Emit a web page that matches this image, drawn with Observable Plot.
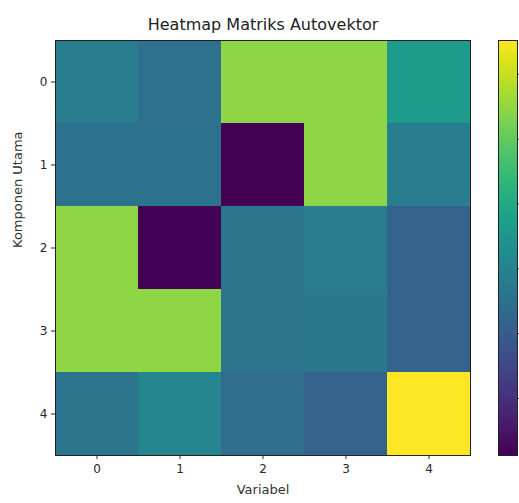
<!DOCTYPE html>
<html>
<head>
<meta charset="utf-8">
<script src="https://cdn.jsdelivr.net/npm/d3@7"></script>
<script src="https://cdn.jsdelivr.net/npm/@observablehq/plot@0.6"></script>
<style>
  html, body { margin: 0; padding: 0; background: #fff; overflow: hidden; }
  #wrap { position: relative; width: 519px; height: 503px; overflow: hidden; }
  #wrap > * { position: absolute; top: 0; }
</style>
</head>
<body>
<div id="wrap"></div>
<script>
// Data
const title = "Heatmap Matriks Autovektor";
const xLabel = "Variabel";
const yLabel = "Komponen Utama";
const variabel = [0, 1, 2, 3, 4];
const komponen = [0, 1, 2, 3, 4];
const komponen0 = [-0.05, -0.13, 0.61, 0.61, 0.15];
const komponen1 = [-0.12, -0.12, -0.72, 0.61, -0.05];
const komponen2 = [0.61, -0.71, -0.10, -0.05, -0.22];
const komponen3 = [0.61, 0.61, -0.10, -0.07, -0.22];
const komponen4 = [-0.10, 0.01, -0.16, -0.22, 0.88];
const colorTicks = [-0.5, -0.25, 0, 0.25, 0.5, 0.75];
const rows = [komponen0, komponen1, komponen2, komponen3, komponen4];

const cells = [];
komponen.forEach((k, i) => variabel.forEach((v, j) => cells.push({komponen: k, variabel: v, nilai: rows[i][j]})));
const vmin = d3.min(cells, d => d.nilai), vmax = d3.max(cells, d => d.nilai);

const font = "DejaVu Sans, sans-serif";

const main = Plot.plot({
  width: 519, height: 503,
  marginLeft: 55, marginRight: 49, marginTop: 40, marginBottom: 48,
  style: {fontFamily: font, fontSize: "12px", color: "#262626", background: "transparent"},
  x: {type: "band", domain: variabel, padding: 0, label: null, tickSize: 4, tickPadding: 5},
  y: {type: "band", domain: komponen, padding: 0, label: null, tickSize: 4, tickPadding: 4},
  color: {type: "linear", scheme: "viridis", domain: [vmin, vmax]},
  marks: [
    Plot.cell(cells, {x: "variabel", y: "komponen", fill: "nilai", inset: 0}),
    Plot.frame({stroke: "#222", strokeWidth: 1}),
    Plot.text([title], {frameAnchor: "top", dy: -22, fontSize: 16, fill: "#222"}),
    Plot.text([xLabel], {frameAnchor: "bottom", dy: 38, fontSize: 13, fill: "#333"}),
    Plot.text([yLabel], {frameAnchor: "left", dx: -38, rotate: -90, fontSize: 13, fill: "#333"})
  ]
});
main.style.left = "0px";

// Colourbar (its tick labels fall outside the cropped picture, so only tick marks are drawn)
const steps = d3.range(0, 256).map(i => vmin + (vmax - vmin) * i / 255);
const dv = (vmax - vmin) / 255;
const bar = Plot.plot({
  width: 40, height: 503,
  marginLeft: 0, marginRight: 21, marginTop: 40, marginBottom: 48,
  style: {fontFamily: font, fontSize: "12px", color: "#333", background: "transparent"},
  x: {domain: [0, 1], axis: null},
  y: {domain: [vmin, vmax], axis: null},
  color: {type: "linear", scheme: "viridis", domain: [vmin, vmax]},
  marks: [
    Plot.rectY(steps, {x1: 0, x2: 1, y1: d => d, y2: d => Math.min(d + dv * 1.5, vmax), fill: d => d}),
    Plot.frame({stroke: "#222", strokeWidth: 1}),
    Plot.axisY(colorTicks, {anchor: "right", tickSize: 4, tickFormat: () => "", label: null})
  ]
});
bar.style.left = "498px";

document.getElementById("wrap").append(main, bar);
</script>
</body>
</html>
